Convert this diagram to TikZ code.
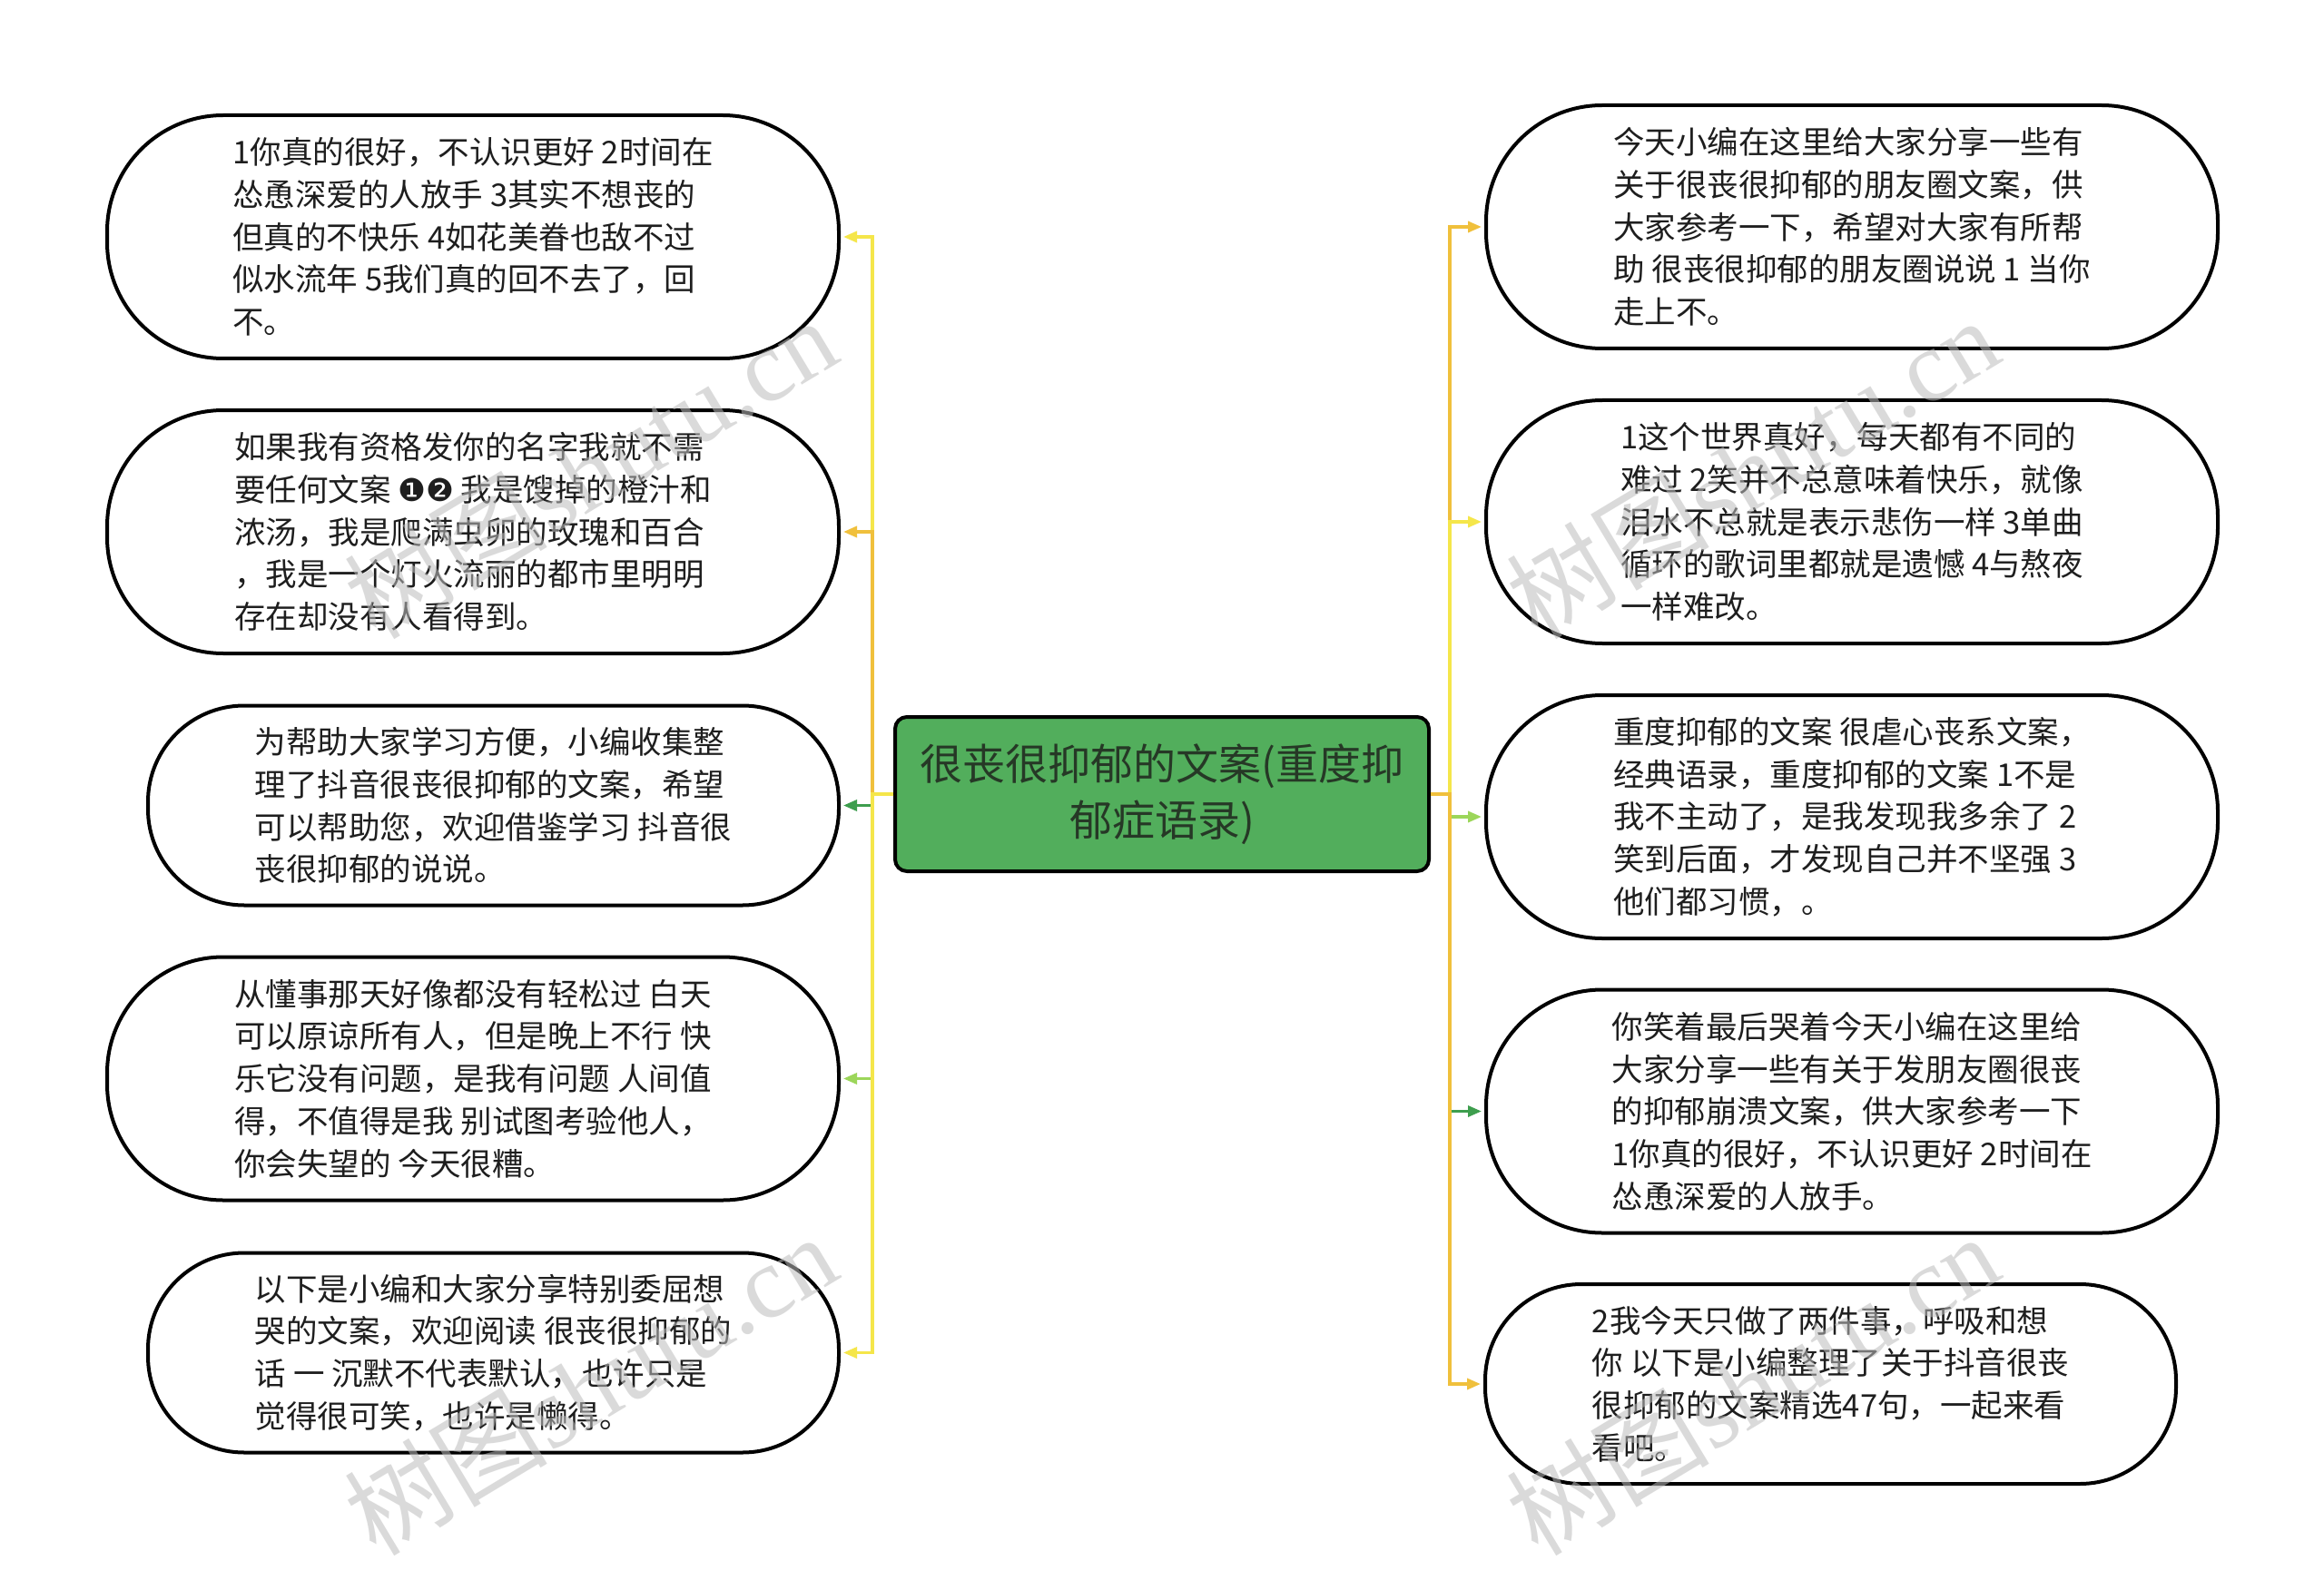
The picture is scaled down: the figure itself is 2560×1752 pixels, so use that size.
\documentclass[tikz,border=0pt]{standalone}
\usepackage{fontspec}
\setmainfont{Noto Sans CJK SC}
\newfontfamily\symfont{DejaVu Sans}
\newfontfamily\wmlatin{Liberation Serif}
\usetikzlibrary{arrows.meta}
\definecolor{cYel}{HTML}{F5E64A}
\definecolor{cOra}{HTML}{F0C03C}
\definecolor{cGrn}{HTML}{3E9E4E}
\definecolor{cLgr}{HTML}{9CD65A}
\definecolor{rootfill}{HTML}{52AE5C}
\definecolor{roottext}{HTML}{263826}
\definecolor{leaftext}{HTML}{1E1E1E}
\definecolor{wmgray}{HTML}{BDBDBD}
\begin{document}
\begin{tikzpicture}[x=1pt,y=-1pt,
  leaf/.style={draw=black, line width=4pt, fill=white, align=left, inner sep=0pt,
    text=leaftext, font=\fontsize{34.5}{46.7}\selectfont},
  bigleaf/.style={leaf, minimum width=806pt, minimum height=268pt, rounded corners=128pt},
  smallleaf/.style={leaf, minimum width=761pt, minimum height=220pt, rounded corners=106pt},
  root/.style={draw=black, line width=4pt, fill=rootfill, rounded corners=13pt, align=center,
    minimum width=588pt, minimum height=170pt, inner sep=0pt, text=roottext,
    font=\fontsize{47}{62}\selectfont},
  edge/.style={line width=3.3pt, -{Triangle[length=15pt,width=12pt]}, shorten >=3pt},
  wm/.style={text=wmgray, text opacity=0.55, rotate=31, font=\fontsize{112}{112}\selectfont}
]
\path[fill=white, use as bounding box] (0,0) rectangle (2560,1752);

\node[root] (c) at (1280,875) {很丧很抑郁的文案(重度抑\\郁症语录)};

\node[bigleaf] (L1) at (521,261) {1你真的很好，不认识更好 2时间在\\怂恿深爱的人放手 3其实不想丧的\\但真的不快乐 4如花美眷也敌不过\\似水流年 5我们真的回不去了，回\\不。};
\node[bigleaf] (L2) at (521,586) {如果我有资格发你的名字我就不需\\要任何文案 {\symfont ❶❷} 我是馊掉的橙汁和\\浓汤，我是爬满虫卵的玫瑰和百合\\，我是一个灯火流丽的都市里明明\\存在却没有人看得到。};
\node[smallleaf] (L3) at (543.5,887.5) {为帮助大家学习方便，小编收集整\\理了抖音很丧很抑郁的文案，希望\\可以帮助您，欢迎借鉴学习 抖音很\\丧很抑郁的说说。};
\node[bigleaf] (L4) at (521,1188.5) {从懂事那天好像都没有轻松过 白天\\可以原谅所有人，但是晚上不行 快\\乐它没有问题，是我有问题 人间值\\得，不值得是我 别试图考验他人，\\你会失望的 今天很糟。};
\node[smallleaf] (L5) at (543.5,1490.5) {以下是小编和大家分享特别委屈想\\哭的文案，欢迎阅读 很丧很抑郁的\\话 一 沉默不代表默认，也许只是\\觉得很可笑，也许是懒得。};

\node[bigleaf] (R1) at (2040,250) {今天小编在这里给大家分享一些有\\关于很丧很抑郁的朋友圈文案，供\\大家参考一下，希望对大家有所帮\\助 很丧很抑郁的朋友圈说说 1 当你\\走上不。};
\node[bigleaf] (R2) at (2040,575) {1这个世界真好，每天都有不同的\\难过 2笑并不总意味着快乐，就像\\泪水不总就是表示悲伤一样 3单曲\\循环的歌词里都就是遗憾 4与熬夜\\一样难改。};
\node[bigleaf] (R3) at (2040,900) {重度抑郁的文案 很虐心丧系文案，\\经典语录，重度抑郁的文案 1不是\\我不主动了，是我发现我多余了 2\\笑到后面，才发现自己并不坚强 3\\他们都习惯，。};
\node[bigleaf] (R4) at (2040,1224.5) {你笑着最后哭着今天小编在这里给\\大家分享一些有关于发朋友圈很丧\\的抑郁崩溃文案，供大家参考一下\\1你真的很好，不认识更好 2时间在\\怂恿深爱的人放手。};
\node[smallleaf] (R5) at (2016.5,1525) {2我今天只做了两件事，呼吸和想\\你 以下是小编整理了关于抖音很丧\\很抑郁的文案精选47句，一起来看\\看吧。};

% connectors left
\draw[edge, cYel] (c.west) -- ++(-23,0) |- (L1.east);
\draw[edge, cOra] (c.west) -- ++(-23,0) |- (L2.east);
\draw[edge, cGrn] (c.west) -- ++(-23,0) |- (L3.east);
\draw[edge, cLgr] (c.west) -- ++(-23,0) |- (L4.east);
\draw[edge, cYel] (c.west) -- ++(-23,0) |- (L5.east);
% connectors right
\draw[edge, cOra] (c.east) -- ++(21,0) |- (R1.west);
\draw[edge, cYel] (c.east) -- ++(21,0) |- (R2.west);
\draw[edge, cLgr] (c.east) -- ++(21,0) |- (R3.west);
\draw[edge, cGrn] (c.east) -- ++(21,0) |- (R4.west);
\draw[edge, cOra] (c.east) -- ++(21,0) |- (R5.west);

% watermarks on top
\node[wm] (w1) at (650,515) {树图\wmlatin shutu.cn};
\node[wm] (w2) at (650,1525) {树图\wmlatin shutu.cn};
\node[wm] (w3) at (1930,515) {树图\wmlatin shutu.cn};
\node[wm] (w4) at (1930,1525) {树图\wmlatin shutu.cn};
\end{tikzpicture}
\end{document}
